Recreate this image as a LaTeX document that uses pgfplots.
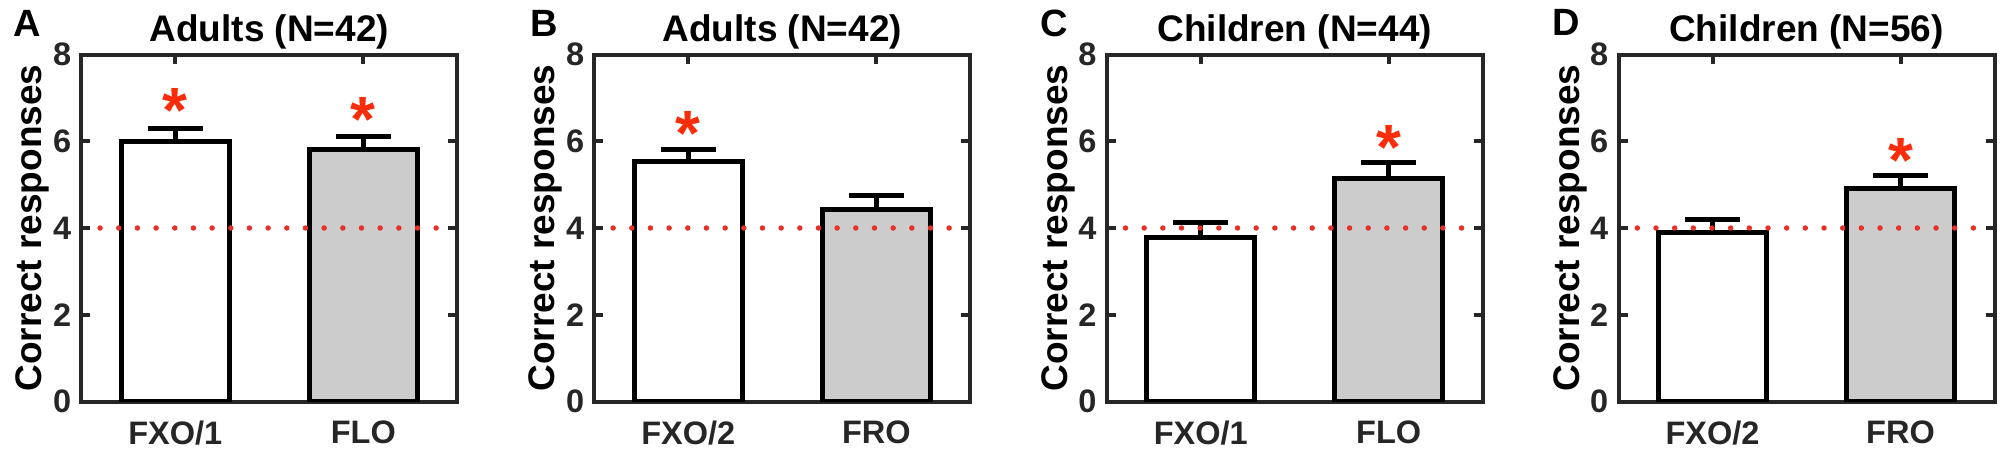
\documentclass[border=0pt]{standalone}
\usepackage{fontspec}
\setmainfont{Liberation Sans}
\usepackage{pgfplots}
\pgfplotsset{compat=1.18}
\definecolor{axgray}{RGB}{38,38,38}
\definecolor{barfill}{RGB}{204,204,204}
\definecolor{starred}{RGB}{250,45,10}
\definecolor{dotred}{RGB}{228,50,40}
\newcommand{\tickfont}{\fontsize{32.5}{36}\selectfont\bfseries}
\newcommand{\labfont}{\fontsize{37}{42}\selectfont\bfseries}
\pgfplotsset{panel/.style={
  anchor=south west, scale only axis, width=376pt, height=347pt,
  xmin=0.5, xmax=2.5, ymin=0, ymax=8, xtick={1,2}, ytick={0,2,4,6,8},
  /pgf/number format/assume math mode=true,
  tick align=inside, major tick length=9pt,
  axis line style={draw=axgray, line width=4pt},
  every tick/.style={draw=axgray, line width=4pt},
  tick label style={font=\tickfont, text=axgray},
  yticklabel style={anchor=east, inner sep=0pt, xshift=-10pt},
  xticklabel style={anchor=north, inner sep=0pt, yshift=-19pt},
  every axis title/.style={at={(0.5,1)}, anchor=base, yshift=12.6pt, inner sep=0pt, font=\labfont, text=black},
  every axis y label/.style={at={([xshift=-39.5pt]rel axis cs:0,0.5)}, rotate=90, anchor=base, inner sep=0pt, font=\labfont, text=black},
  ylabel={Correct responses},
},
barA/.style={ybar, bar width=0.575, bar shift=0pt, draw=black, line width=5pt,
  /pgfplots/error bars/y dir=plus, /pgfplots/error bars/y explicit,
  /pgfplots/error bars/error mark=|,
  /pgfplots/error bars/error bar style={line width=5pt, black},
  /pgfplots/error bars/error mark options={black, line width=5pt, mark size=27.5pt}},
chance/.style={dotred, line width=5.5pt, line cap=round, dash pattern=on 0pt off 18.67pt},
stars/.style={only marks, starred, mark=text, text mark as node=true,
  text mark={\smash{\raisebox{-0.56em}{*}}},
  text mark style={font=\fontsize{64}{64}\selectfont\bfseries, text=starred, inner sep=0pt, anchor=center}},
}
\begin{document}
\begin{tikzpicture}
\path[use as bounding box] (0,0) rectangle (2011pt,459pt);
% Panel A
\begin{axis}[panel, at={(81.3pt,57.5pt)}, title={Adults (N=42)}, xticklabels={FXO/1,FLO}]
\addplot[barA, fill=white] coordinates {(1,6.00) +- (0,0.30)};
\addplot[barA, fill=barfill] coordinates {(2,5.82) +- (0,0.30)};
\addplot[chance] coordinates {(0.6,4) (2.4,4)};
\addplot[stars] coordinates {(1,7.02) (2,6.83)};
\end{axis}
% Panel B
\begin{axis}[panel, at={(594.3pt,57.5pt)}, title={Adults (N=42)}, xticklabels={FXO/2,FRO}]
\addplot[barA, fill=white] coordinates {(1,5.54) +- (0,0.28)};
\addplot[barA, fill=barfill] coordinates {(2,4.43) +- (0,0.33)};
\addplot[chance] coordinates {(0.6,4) (2.4,4)};
\addplot[stars] coordinates {(1,6.50)};
\end{axis}
% Panel C
\begin{axis}[panel, at={(1106.7pt,57.5pt)}, title={Children (N=44)}, xticklabels={FXO/1,FLO}]
\addplot[barA, fill=white] coordinates {(1,3.79) +- (0,0.33)};
\addplot[barA, fill=barfill] coordinates {(2,5.15) +- (0,0.35)};
\addplot[chance] coordinates {(0.6,4) (2.4,4)};
\addplot[stars] coordinates {(2,6.18)};
\end{axis}
% Panel D
\begin{axis}[panel, at={(1618.5pt,57.5pt)}, title={Children (N=56)}, xticklabels={FXO/2,FRO}]
\addplot[barA, fill=white] coordinates {(1,3.89) +- (0,0.31)};
\addplot[barA, fill=barfill] coordinates {(2,4.90) +- (0,0.31)};
\addplot[chance] coordinates {(0.6,4) (2.4,4)};
\addplot[stars] coordinates {(2,5.88)};
\end{axis}
\tikzset{panlet/.style={anchor=base west, inner sep=0pt, font=\fontsize{38}{44}\selectfont\bfseries}}
\node[panlet] at (13pt,422.5pt) {A};
\node[panlet] at (530.5pt,422.5pt) {B};
\node[panlet] at (1040.7pt,422.5pt) {C};
\node[panlet] at (1552.2pt,423pt) {D};
\end{tikzpicture}
\end{document}
